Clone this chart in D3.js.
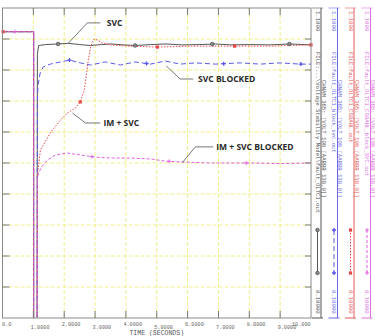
<!DOCTYPE html>
<html lang="en">
<head>
    <meta charset="UTF-8">
    <title>Voltage recovery - SVC / IM</title>
    <style>
        body { margin: 0; background: #fff; }
        .mono { font-family: "Liberation Mono", "DejaVu Sans Mono", monospace; }
        .note { font-family: "Open Sans", sans-serif; font-weight: bold; font-size: 8.5px; fill: #2a2a2a; }
    </style>
</head>
<body>
    <svg width="375" height="336"></svg>

    <script src="https://d3js.org/d3.v7.min.js"></script>
    <script>

        // common pre-fault part and the fault itself (voltage collapses below the axis)
        const preT = [0, 1.01, 1.01, 1.12];
        const preV = [1.0235, 1.0235, 0.0, 0.0];

        // SVC
        const svcT = [1.12, 1.13, 1.17, 1.4, 1.8, 2.14, 2.5, 2.85, 3.2, 3.5, 3.9, 4.3, 4.8, 5.3, 5.8, 6.4, 6.9, 7.4, 8.0, 8.7, 9.3, 10];
        const svcV = [0.0, 0.95, 0.979, 0.982, 0.984, 0.986, 0.982, 0.979, 0.982, 0.984, 0.981, 0.979, 0.982, 0.984, 0.981, 0.982, 0.984, 0.981, 0.982, 0.981, 0.984, 0.981];

        // SVC BLOCKED
        const blkT = [1.12, 1.13, 1.15, 1.22, 1.32, 1.55, 1.88, 2.17, 2.52, 2.85, 3.33, 3.82, 4.3, 4.8, 5.27, 5.76, 6.25, 6.9, 7.7, 8.35, 9.0, 9.64, 10];
        const blkV = [0.0, 0.80, 0.85, 0.89, 0.91, 0.919, 0.926, 0.932, 0.923, 0.916, 0.926, 0.916, 0.926, 0.919, 0.929, 0.919, 0.923, 0.919, 0.923, 0.919, 0.923, 0.919, 0.919];

        // IM + SVC
        const imT = [1.12, 1.13, 1.23, 1.55, 1.88, 2.1, 2.36, 2.52, 2.65, 2.72, 2.78, 2.85, 2.91, 2.98, 3.07, 3.24, 3.5, 4.14, 5.02, 6.08, 7.38, 8.67, 10];
        const imV = [0.0, 0.56, 0.642, 0.697, 0.739, 0.761, 0.777, 0.797, 0.835, 0.884, 0.932, 0.971, 0.99, 1.0, 0.997, 0.987, 0.981, 0.977, 0.974, 0.977, 0.977, 0.977, 0.981];

        // IM + SVC BLOCKED
        const imBlkT = [1.12, 1.13, 1.25, 1.46, 1.72, 2.1, 2.52, 3.0, 3.5, 4.14, 4.8, 5.27, 5.92, 6.73, 8.0, 9.0, 10];
        const imBlkV = [0.0, 0.555, 0.585, 0.61, 0.626, 0.632, 0.626, 0.619, 0.616, 0.616, 0.613, 0.606, 0.603, 0.6, 0.6, 0.598, 0.6];

        // marker times for each channel
        const svcMarks = [1.8, 4.3, 6.8, 9.3];
        const blkMarks = [2.17, 4.67, 7.17, 9.67];
        const imMarks = [0.02, 2.52, 5.02, 7.52, 10];
        const imBlkMarks = [0.4, 2.9, 5.4, 7.9];

        const xTicks = [0, 1, 2, 3, 4, 5, 6, 7, 8, 9, 10];
        const xTickLabels = ['0.0', '1.0000', '2.0000', '3.0000', '4.0000', '5.0000', '6.0000', '7.0000', '8.0000', '9.0000', '10.000'];
        const yTicks = [0.2, 0.3, 0.4, 0.5, 0.6, 0.7, 0.8, 0.9, 1.0];

        const chanFiles = [
            'FILE:...\\Voltage Stability Model\\fault_OLTC1.out',
            'FILE:fault_OLTC1_block_svc.out',
            'FILE:fault_OLTC1_CS0AHL.out',
            'FILE:fault_OLTC1_CS0AHL_block_SVC.out'
        ];
        const chanName = 'CHNAM 365: [VOLT   106 [AARBR   138.0]]';
        const chanMax = '1.1000';
        const chanMin = '0.10000';

        const svg = d3.select('svg');

        const x = d3.scaleLinear().domain([0, 10]).range([2.5, 311]);
        const y = d3.scaleLinear().domain([0.1, 1.1]).range([318, 8]);

        const zip = (ts, vs) => ts.map((t, i) => [t, vs[i]]);

        const series = [
            { pts: zip(preT, preV).concat(zip(svcT, svcV).slice(1)), color: '#555', dash: null, marks: svcMarks, shape: 'circle' },
            { pts: zip(preT, preV).concat(zip(blkT, blkV).slice(1)), color: '#5a5ae6', dash: '5,3', marks: blkMarks, shape: 'star' },
            { pts: zip(preT, preV).concat(zip(imT, imV).slice(1)), color: '#e84a4a', dash: '1.5,1.5', marks: imMarks, shape: 'square' },
            { pts: zip(preT, preV).concat(zip(imBlkT, imBlkV).slice(1)), color: '#e060e0', dash: '3,2', marks: imBlkMarks, shape: 'plus' }
        ];

        // grid
        const grid = svg.append('g')
            .attr('stroke', '#f0ee8c')
            .attr('stroke-width', 1)
            .attr('stroke-dasharray', '4,2');

        grid.selectAll('.gx')
            .data(xTicks.slice(1, -1))
            .enter().append('line')
            .attr('x1', d => x(d)).attr('x2', d => x(d))
            .attr('y1', y(1.1)).attr('y2', y(0.1));

        grid.selectAll('.gy')
            .data(yTicks)
            .enter().append('line')
            .attr('x1', x(0)).attr('x2', x(10))
            .attr('y1', d => y(d)).attr('y2', d => y(d));

        // curves, clipped to the plot
        svg.append('clipPath').attr('id', 'plot')
            .append('rect')
            .attr('x', x(0)).attr('y', y(1.1))
            .attr('width', x(10) - x(0)).attr('height', y(0.1) - y(1.1));

        const plotG = svg.append('g').attr('clip-path', 'url(#plot)');

        const line = d3.line()
            .x(d => x(d[0]))
            .y(d => y(d[1]));

        function valueAt(pts, t) {
            for (let i = pts.length - 1; i > 0; i--) {
                const a = pts[i - 1], b = pts[i];
                if (t >= a[0] && t <= b[0] && b[0] > a[0]) {
                    return a[1] + (b[1] - a[1]) * (t - a[0]) / (b[0] - a[0]);
                }
            }
            return pts[pts.length - 1][1];
        }

        series.forEach(function (s) {
            plotG.append('path')
                .attr('d', line(s.pts))
                .attr('fill', 'none')
                .attr('stroke', s.color)
                .attr('stroke-width', 1)
                .attr('stroke-dasharray', s.dash);
        });

        function drawMarker(g, shape, color, cx, cy) {
            if (shape === 'circle') {
                g.append('circle').attr('cx', cx).attr('cy', cy).attr('r', 1.8)
                    .attr('fill', '#888').attr('stroke', color).attr('stroke-width', 0.8);
            } else if (shape === 'square') {
                g.append('rect').attr('x', cx - 1.6).attr('y', cy - 1.6)
                    .attr('width', 3.2).attr('height', 3.2).attr('fill', color);
            } else if (shape === 'star') {
                g.append('path')
                    .attr('d', d3.symbol().type(d3.symbolCross).size(9)())
                    .attr('transform', 'translate(' + cx + ',' + cy + ')')
                    .attr('fill', color);
            } else {
                g.append('path')
                    .attr('d', 'M' + (cx - 2) + ',' + cy + 'h4M' + cx + ',' + (cy - 2) + 'v4')
                    .attr('stroke', color).attr('stroke-width', 0.9);
            }
        }

        series.forEach(function (s) {
            s.marks.forEach(function (t) {
                drawMarker(svg, s.shape, s.color, x(t), y(valueAt(s.pts, t)));
            });
        });

        // frame and ticks
        svg.append('rect')
            .attr('x', x(0)).attr('y', y(1.1))
            .attr('width', x(10) - x(0)).attr('height', y(0.1) - y(1.1))
            .attr('fill', 'none').attr('stroke', '#8a8a8a').attr('stroke-width', 1);

        const ticks = svg.append('g').attr('stroke', '#777').attr('stroke-width', 1);

        xTicks.slice(1, -1).forEach(function (t) {
            ticks.append('line').attr('x1', x(t)).attr('x2', x(t)).attr('y1', y(1.1)).attr('y2', y(1.1) + 7);
            ticks.append('line').attr('x1', x(t)).attr('x2', x(t)).attr('y1', y(0.1)).attr('y2', y(0.1) - 7);
        });
        yTicks.forEach(function (v) {
            ticks.append('line').attr('x1', x(0)).attr('x2', x(0) + 7).attr('y1', y(v)).attr('y2', y(v));
            ticks.append('line').attr('x1', x(10)).attr('x2', x(10) - 6).attr('y1', y(v)).attr('y2', y(v));
        });

        // x tick labels, staggered like the plot package does
        svg.selectAll('.xl')
            .data(xTicks)
            .enter().append('text')
            .attr('class', 'mono')
            .attr('x', (d, i) => i === 10 ? x(d) - 19 : x(d) - 2.5 + (i === 0 ? 2 : 0))
            .attr('y', (d, i) => i % 2 === 0 ? 325.5 : 329)
            .attr('font-size', 5.2)
            .attr('fill', '#666')
            .text((d, i) => xTickLabels[i]);

        svg.append('text')
            .attr('class', 'mono')
            .attr('x', (x(0) + x(10)) / 2)
            .attr('y', 334.5)
            .attr('text-anchor', 'middle')
            .attr('font-size', 6.5)
            .attr('fill', '#555')
            .text('TIME (SECONDS)');

        // channel columns on the right
        const colColors = ['#555', '#6a6ae8', '#e45a5a', '#e070e0'];
        const colG = svg.append('g');

        series.forEach(function (s, i) {
            const L = 313 + 16.5 * i;
            const c = colColors[i];
            const g = colG.append('g');

            g.append('line').attr('x1', L + 8).attr('x2', L + 8).attr('y1', y(1.1)).attr('y2', y(0.1))
                .attr('stroke', c).attr('stroke-width', 1);
            g.append('line').attr('x1', L - 1).attr('x2', L + 10).attr('y1', y(0.1)).attr('y2', y(0.1))
                .attr('stroke', c).attr('stroke-width', 1);
            g.append('line').attr('x1', L - 1).attr('x2', L + 10).attr('y1', y(1.1)).attr('y2', y(1.1))
                .attr('stroke', c).attr('stroke-width', 0.6);

            const txt = function (str, tx, ty) {
                g.append('text')
                    .attr('class', 'mono')
                    .attr('transform', 'translate(' + tx + ',' + ty + ') rotate(90)')
                    .attr('dy', '0.35em')
                    .attr('font-size', 5.6)
                    .attr('fill', c)
                    .text(str);
            };

            txt(chanMax, L + 4.5, 11);
            txt(chanFiles[i], L + 4.5, 52);
            txt(chanName, L + 10.5, 80);
            txt(chanMin, L + 4.5, 290);

            // legend sample
            g.append('line')
                .attr('x1', L + 4.5).attr('x2', L + 4.5).attr('y1', 230).attr('y2', 273)
                .attr('stroke', s.color).attr('stroke-width', 1)
                .attr('stroke-dasharray', s.dash);
            drawMarker(g, s.shape, s.color, L + 4.5, 230);
            drawMarker(g, s.shape, s.color, L + 4.5, 273);
        });

        // annotations, anchored in data units
        const notes = [
            { text: 'SVC', pts: [[2.14, 0.987], [2.75, 1.052], [3.17, 1.052]], at: [3.38, 1.052] },
            { text: 'SVC BLOCKED', pts: [[5.31, 0.913], [5.76, 0.871], [6.18, 0.871]], at: [6.34, 0.871] },
            { text: 'IM + SVC', pts: [[2.27, 0.761], [2.69, 0.729], [3.17, 0.729]], at: [3.27, 0.729] },
            { text: 'IM + SVC BLOCKED', pts: [[5.83, 0.601], [6.25, 0.652], [6.83, 0.652]], at: [6.93, 0.652] }
        ];

        notes.forEach(function (n) {
            svg.append('path')
                .attr('d', line(n.pts))
                .attr('fill', 'none')
                .attr('stroke', '#555')
                .attr('stroke-width', 0.8);
            svg.append('text')
                .attr('class', 'note')
                .attr('x', x(n.at[0]))
                .attr('y', y(n.at[1]))
                .attr('dy', '0.35em')
                .text(n.text);
        });

    </script>
</body>
</html>
